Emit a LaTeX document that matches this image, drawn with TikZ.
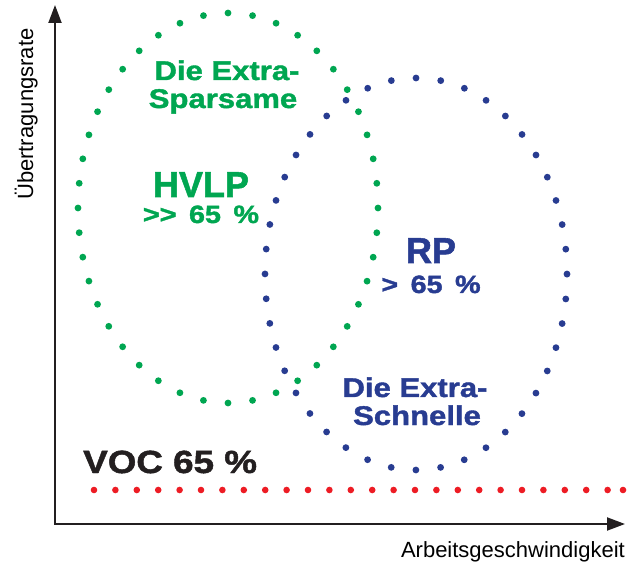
\documentclass[tikz,border=0pt]{standalone}
\usepackage{fontspec}
\setmainfont{Liberation Sans}
\newfontfamily\heavyfont{Liberation Sans Bold}[FakeBold=1.5]
\newfontfamily\widefont{Liberation Sans Bold}[FakeStretch=1.15, FakeBold=1.5]
\usetikzlibrary{arrows.meta}

\definecolor{sparGreen}{RGB}{0,166,81}
\definecolor{fastBlue}{RGB}{40,60,145}
\definecolor{vocRed}{RGB}{237,28,36}
\definecolor{axisBlack}{RGB}{35,31,32}

\begin{document}
\begin{tikzpicture}[x=1pt, y=1pt, >={Triangle[length=18pt,width=13pt]},
    dotring/.style={line width=6.8pt, line cap=round, dash pattern=on 0pt off #1},
    bigtext/.style={font=\heavyfont\fontsize{36}{40}\selectfont, anchor=base, inner sep=0pt},
    midtext/.style={font=\widefont\fontsize{27}{28}\selectfont, anchor=base, inner sep=0pt},
    smalltext/.style={font=\widefont\fontsize{25}{28}\selectfont, anchor=base, inner sep=0pt},
    axislabel/.style={font=\fontsize{22}{24}\selectfont, inner sep=0pt}]
    \useasboundingbox (0,0) rectangle (644,562);

    % axes
    \coordinate (origin) at (55,38);
    \coordinate (ytip) at (55,557);
    \coordinate (xtip) at (625,38);
    \draw[<->, line width=2pt, axisBlack] (ytip) -- (origin) -- (xtip);
    \node[axislabel, anchor=base east] (xlabel) at (625,5) {Arbeitsgeschwindigkeit};
    \node[axislabel, rotate=90, anchor=base west] (ylabel) at (33,362) {Übertragungsrate};

    % the two dotted rings
    \coordinate (sparC) at (228,354);
    \coordinate (fastC) at (416,288);
    \draw[dotring=24.74pt, sparGreen] (sparC) ellipse [x radius=150pt, y radius=195pt];
    \draw[dotring=24.88pt, fastBlue] (fastC) ellipse [x radius=151pt, y radius=196pt];

    % VOC line
    \foreach \i in {0,...,24}
        \fill[vocRed] (94+21.4*\i,72) circle (3.3pt);
    \fill[vocRed] (623,72) circle (3.3pt);
    \node[font=\widefont\fontsize{32}{36}\selectfont, axisBlack, anchor=base west, inner sep=0pt] (voc) at (83,89) {VOC 65 \%};

    % labels
    \node[midtext, sparGreen] (sparA) at (227,482) {Die Extra-};
    \node[midtext, sparGreen] (sparB) at (223,454) {Sparsame};
    \node[bigtext, sparGreen] (hvlp) at (201,365) {HVLP};
    \node[smalltext, sparGreen] (hvlpVal) at (201,339) {>{}>\enspace 65\enspace\%};
    \node[bigtext, fastBlue] (rp) at (431,299) {RP};
    \node[smalltext, fastBlue] (rpVal) at (431,269) {>\enspace 65\enspace\%};
    \node[midtext, fastBlue] (fastA) at (415,165) {Die Extra-};
    \node[midtext, fastBlue] (fastB) at (417,137) {Schnelle};
\end{tikzpicture}
\end{document}
